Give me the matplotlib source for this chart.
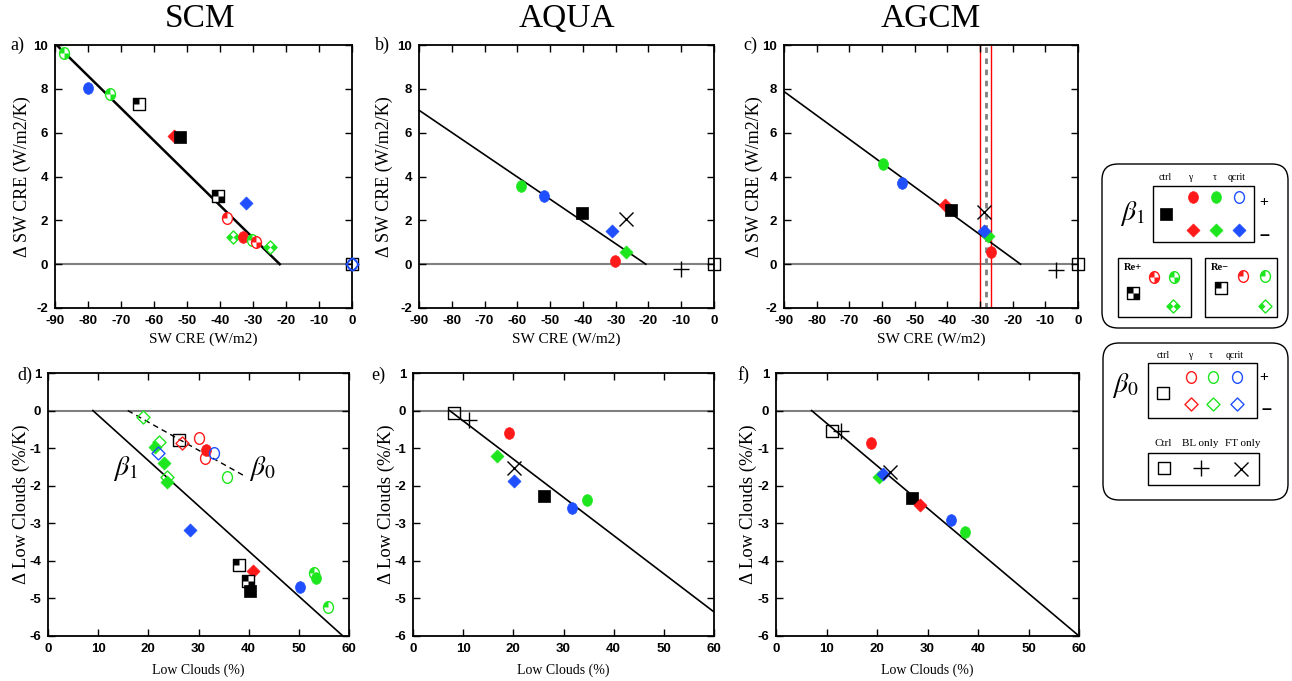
import numpy as np
import matplotlib
matplotlib.use('Agg')
import matplotlib.pyplot as plt
from matplotlib.path import Path
from matplotlib.transforms import Affine2D
from matplotlib.patches import FancyBboxPatch, Rectangle

plt.rcParams['mathtext.fontset'] = 'stix'
plt.rcParams['axes.unicode_minus'] = False
SERIF = 'Liberation Serif'
SANS = 'Liberation Sans'

# ---------------- data ----------------
# experiment codes: ctrl / gamma / tau / qcrit with +/- ; suffix b0 = beta0 (open),
# re+ / re- = Reynolds-number variants, BL / FT = BL only / FT only

# (a) SCM : dSW CRE vs SW CRE
scm_cre_x = [-87.2, -80.0, -73.3, -64.5, -54.0, -52.1, -40.6, -32.2, -38.0,
             -36.1, -33.0, -30.2, -29.2, -25.0, 0.0, 0.0, 0.0]
scm_cre_y = [9.65, 8.05, 7.78, 7.3, 5.85, 5.8, 3.1, 2.78, 2.1,
             1.22, 1.25, 1.12, 1.0, 0.78, 0.0, 0.0, 0.0]
scm_cre_exp = ['tau+ re+', 'qcrit+', 'tau+ re+', 'ctrl re-', 'gamma-', 'ctrl', 'ctrl re+',
               'qcrit-', 'gamma+ re-', 'tau- re+', 'gamma+', 'tau+ re+', 'gamma+ re+',
               'tau- re+', 'ctrl b0', 'qcrit- b0', 'qcrit+ b0']

# (b) AQUA
aqua_cre_x = [-59.0, -51.8, -40.4, -26.7, -31.0, -27.0, -30.2, -10.2, 0.0]
aqua_cre_y = [3.57, 3.12, 2.33, 2.06, 1.5, 0.55, 0.14, -0.24, 0.0]
aqua_cre_exp = ['tau+', 'qcrit+', 'ctrl', 'FT', 'qcrit-', 'tau-', 'gamma+', 'BL', 'ctrl b0']

# (c) AGCM
agcm_cre_x = [-59.8, -54.0, -40.8, -39.0, -27.6, -28.7, -28.8, -26.7, -6.8, 0.0]
agcm_cre_y = [4.58, 3.70, 2.72, 2.49, 1.3, 1.53, 2.37, 0.55, -0.27, 0.0]
agcm_cre_exp = ['tau+', 'qcrit+', 'gamma-', 'ctrl', 'tau-', 'qcrit-', 'FT', 'gamma+', 'BL', 'ctrl b0']
agcm_obs = -28.3
agcm_obs_range = [-30.1, -26.6]

# (d) SCM : dLow clouds vs Low clouds
scm_low_x = [19.0, 22.2, 21.4, 21.9, 23.1, 23.8, 23.7, 26.2, 26.7, 30.0, 31.4, 31.2,
             33.0, 35.7, 28.4, 38.1, 40.9, 39.9, 40.3, 50.2, 53.0, 53.5, 55.8]
scm_low_y = [-0.17, -0.83, -0.97, -1.14, -1.39, -1.78, -1.9, -0.79, -0.86, -0.74, -1.04, -1.25,
             -1.14, -1.78, -3.19, -4.11, -4.26, -4.53, -4.79, -4.69, -4.31, -4.46, -5.24]
scm_low_exp = ['tau- b0', 'tau- b0', 'tau-', 'qcrit- b0', 'tau-', 'tau- b0', 'tau-', 'ctrl b0',
               'gamma- b0', 'gamma+ b0', 'gamma+', 'gamma+ b0', 'qcrit+ b0', 'tau+ b0', 'qcrit-',
               'ctrl re-', 'gamma-', 'ctrl re+', 'ctrl', 'qcrit+', 'tau+ re+', 'tau+', 'tau+ re-']

# (e) AQUA
aqua_low_x = [8.1, 11.1, 19.2, 16.7, 20.2, 20.2, 26.1, 31.7, 34.6]
aqua_low_y = [-0.06, -0.24, -0.59, -1.21, -1.88, -1.54, -2.28, -2.58, -2.37]
aqua_low_exp = ['ctrl b0', 'BL', 'gamma+', 'tau-', 'qcrit-', 'FT', 'ctrl', 'qcrit+', 'tau+']

# (f) AGCM
agcm_low_x = [11.0, 12.85, 18.8, 20.4, 21.1, 22.5, 27.0, 28.6, 34.7, 37.4]
agcm_low_y = [-0.55, -0.55, -0.86, -1.78, -1.70, -1.63, -2.33, -2.52, -2.91, -3.22]
agcm_low_exp = ['ctrl b0', 'BL', 'gamma+', 'tau-', 'qcrit-', 'FT', 'ctrl', 'gamma-', 'qcrit+', 'tau+']

# regression lines: (slope, zero crossing, x start, x end)
scm_cre_fit = (-0.1479, -21.9, -89.5, -21.9)
aqua_cre_fit = (-0.1015, -20.8, -90.0, -20.8)
agcm_cre_fit = (-0.1088, -17.6, -90.0, -17.6)
scm_low_fit_b1 = (-0.1204, 8.95, 8.95, 58.8)
scm_low_fit_b0 = (-0.0748, 15.9, 15.9, 39.3)
aqua_low_fit = (-0.1017, 7.3, 7.3, 60.0)
agcm_low_fit = (-0.1133, 7.05, 7.05, 60.0)

titles = ['SCM', 'AQUA', 'AGCM']
cre_ticks_x = np.arange(-90, 1, 10)
cre_ticks_y = np.arange(-2, 11, 2)
low_ticks_x = np.arange(0, 61, 10)
low_ticks_y = np.arange(-6, 2, 1)

# ---------------- marker shapes ----------------
COLORS = {'ctrl': 'black', 'gamma': '#ff1a1a', 'tau': '#1ee61e', 'qcrit': '#1f4fff'}
ELL = Affine2D().scale(0.85, 1.0)


def poly(pts):
    return Path(pts + [pts[0]], [Path.MOVETO] + [Path.LINETO] * (len(pts) - 1) + [Path.CLOSEPOLY])


def wedge(a, b):
    return ELL.transform_path(Path.wedge(a, b))


SHAPES = {
    'circ': ELL.transform_path(Path.unit_circle()),
    'sq': poly([(-1, -1), (1, -1), (1, 1), (-1, 1)]),
    'dia': poly([(0, -1), (1, 0), (0, 1), (-1, 0)]),
}
PARTS = {
    'circ': {'re+': Path.make_compound_path(wedge(90, 180), wedge(270, 360)),
             're-': wedge(90, 180)},
    'sq': {'re+': Path.make_compound_path(poly([(-1, 0), (0, 0), (0, 1), (-1, 1)]),
                                          poly([(0, -1), (1, -1), (1, 0), (0, 0)])),
           're-': poly([(-1, 0), (0, 0), (0, 1), (-1, 1)])},
    'dia': {'re+': Path.make_compound_path(poly([(-1, 0), (-0.5, -0.5), (0, 0), (-0.5, 0.5)]),
                                           poly([(1, 0), (0.5, 0.5), (0, 0), (0.5, -0.5)])),
            're-': poly([(-1, 0), (-0.5, -0.5), (0, 0), (-0.5, 0.5)])},
}
SIZES = {'circ': 8.4, 'sq': 8.4, 'dia': 9.4}


def mark(ax, x, y, exp, scale=1.0):
    parts = exp.split()
    name = parts[0]
    kind = parts[1] if len(parts) > 1 else 'b1'
    if name == 'BL':
        ax.plot(x, y, marker='+', ms=11 * scale, mew=1, color='black', ls='none', zorder=5,
                clip_on=False)
        return
    if name == 'FT':
        ax.plot(x, y, marker='x', ms=10 * scale, mew=1, color='black', ls='none', zorder=5,
                clip_on=False)
        return
    if name == 'ctrl':
        shape, col = 'sq', 'black'
    else:
        col = COLORS[name[:-1]]
        shape = 'circ' if name.endswith('+') else 'dia'
    ms = SIZES[shape] * scale
    if kind == 'b1':
        ax.plot(x, y, marker=SHAPES[shape], ms=ms, mfc=col, mec=col, mew=0.5, ls='none',
                zorder=3, clip_on=False)
    else:
        face = 'none' if kind == 'b0' else 'white'
        ax.plot(x, y, marker=SHAPES[shape], ms=ms, mfc=face, mec=col, mew=1.0, ls='none',
                zorder=3, clip_on=False)
        if kind in PARTS[shape]:
            ax.plot(x, y, marker=PARTS[shape][kind], ms=ms, mfc=col, mec='none', ls='none',
                    zorder=3, clip_on=False)


def fit_line(ax, fit, lw=1.2, ls='-'):
    slope, x0, xa, xb = fit
    xs = np.array([xa, xb])
    ax.plot(xs, slope * (xs - x0), color='black', lw=lw, ls=ls, zorder=2)


# ---------------- figure ----------------
W, H = 1292, 681
fig = plt.figure(figsize=(W / 100, H / 100), dpi=100)


def box(l, r, t, b):
    return [l / W, (H - b) / H, (r - l) / W, (b - t) / H]


top_boxes = [box(55, 352, 45, 308), box(419, 714, 45, 308), box(784, 1078, 45, 308)]
bot_boxes = [box(48, 349, 373, 636), box(413, 714, 373, 636), box(776, 1079, 373, 636)]
top_ylab = [-0.11, -0.118, -0.102]
bot_ylab = [-0.088, -0.088, -0.092]
top_panel = [(17, 45, 'a)'), (382, 45, 'b)'), (750, 45, 'c)')]
bot_panel = [(25, 375, 'd)'), (378, 375, 'e)'), (743, 375, 'f)')]
title_x = [200, 567, 931]

top_data = [(scm_cre_x, scm_cre_y, scm_cre_exp, scm_cre_fit, 1.8),
            (aqua_cre_x, aqua_cre_y, aqua_cre_exp, aqua_cre_fit, 1.2),
            (agcm_cre_x, agcm_cre_y, agcm_cre_exp, agcm_cre_fit, 1.2)]
bot_data = [(scm_low_x, scm_low_y, scm_low_exp, scm_low_fit_b1, 1.2),
            (aqua_low_x, aqua_low_y, aqua_low_exp, aqua_low_fit, 1.2),
            (agcm_low_x, agcm_low_y, agcm_low_exp, agcm_low_fit, 1.2)]


def style(ax):
    for s in ax.spines.values():
        s.set_linewidth(1.3)
    ax.tick_params(direction='in', top=True, right=True, length=5, width=1, pad=5,
                   labelsize=9.5)
    for lab in ax.get_xticklabels() + ax.get_yticklabels():
        lab.set_fontfamily(SANS)
        lab.set_fontweight('bold')


for i in range(3):
    # top row
    ax = fig.add_axes(top_boxes[i])
    xs, ys, ex, fit, lw = top_data[i]
    ax.axhline(0, color='#808080', lw=1.5, zorder=1)
    fit_line(ax, fit, lw=lw)
    for x, y, e in zip(xs, ys, ex):
        mark(ax, x, y, e)
    ax.set_xlim(-90, 0)
    ax.set_ylim(-2, 10)
    ax.set_xticks(cre_ticks_x)
    ax.set_yticks(cre_ticks_y)
    style(ax)
    ax.set_xlabel('SW CRE (W/m2)', family=SERIF, fontsize=11, va='center')
    ax.xaxis.set_label_coords(0.5, -0.12)
    ax.set_ylabel('\u0394 SW CRE (W/m2/K)', family=SERIF, fontsize=13, va='center')
    ax.yaxis.set_label_coords(top_ylab[i], 0.5)
    if i == 2:
        for xv in agcm_obs_range:
            ax.axvline(xv, color='red', lw=1.0, zorder=1.5)
        ax.axvline(agcm_obs, color='#808080', lw=2.0, ls=(0, (2, 2)), zorder=1.5)

    # bottom row
    ax2 = fig.add_axes(bot_boxes[i])
    xs, ys, ex, fit, lw = bot_data[i]
    ax2.axhline(0, color='#808080', lw=1.5, zorder=1)
    fit_line(ax2, fit, lw=lw)
    if i == 0:
        fit_line(ax2, scm_low_fit_b0, lw=1.0, ls=(0, (4, 3)))
        ax2.text(15.5, -1.55, r'$\beta_1$', fontsize=20, ha='center', va='center')
        ax2.text(42.7, -1.55, r'$\beta_0$', fontsize=20, ha='center', va='center')
    for x, y, e in zip(xs, ys, ex):
        mark(ax2, x, y, e)
    ax2.set_xlim(0, 60)
    ax2.set_ylim(-6, 1)
    ax2.set_xticks(low_ticks_x)
    ax2.set_yticks(low_ticks_y)
    style(ax2)
    ax2.set_xlabel('Low Clouds (%)', family=SERIF, fontsize=10, va='center')
    ax2.xaxis.set_label_coords(0.5, -0.13)
    ax2.set_ylabel('\u0394 Low Clouds (%/K)', family=SERIF, fontsize=13.5, va='center')
    ax2.yaxis.set_label_coords(bot_ylab[i], 0.5)

# titles and panel letters, in pixel space
lax = fig.add_axes([0, 0, 1, 1])
lax.set_xlim(0, W)
lax.set_ylim(H, 0)
lax.axis('off')
for i in range(3):
    lax.text(title_x[i], 19, titles[i], family=SERIF, fontsize=24, ha='center', va='center')
    for px, py, t in (top_panel[i], bot_panel[i]):
        lax.text(px, py, t, family=SERIF, fontsize=13, ha='center', va='center')

# ---------------- legend boxes ----------------
def rbox(l, t, r, b):
    lax.add_patch(FancyBboxPatch((l, t), r - l, b - t, boxstyle='round,pad=0,rounding_size=16',
                                 fc='none', ec='black', lw=1.0))


def sbox(l, t, r, b):
    lax.add_patch(Rectangle((l, t), r - l, b - t, fc='none', ec='black', lw=1.0))


def small(x, y, s, size=7, **kw):
    lax.text(x, y, s, family=SERIF, fontsize=size, ha='center', va='center', **kw)


# beta1 box
rbox(1102, 164, 1288, 328)
lax.text(1132, 214, r'$\beta_1$', fontsize=20, ha='center', va='center')
sbox(1153, 186, 1254, 242)
for xx, s in zip([1165, 1190, 1215, 1237], ['ctrl', '\u03b3', '\u03c4', 'qcrit']):
    small(xx, 177, s)
mark(lax, 1166, 214, 'ctrl')
for xx, nm in zip([1193, 1216, 1239], ['gamma', 'tau', 'qcrit']):
    mark(lax, xx, 197, nm + '+' + ('' if nm != 'qcrit' else ' b0'))
    mark(lax, xx, 230, nm + '-')
lax.text(1264, 202, '+', family=SANS, fontsize=11, ha='center', va='center')
lax.text(1264, 236, '\u2013', family=SANS, fontsize=13, ha='center', va='center', weight='bold')

sbox(1118, 258, 1191, 317)
small(1133, 268, 'Re+', size=7.5, weight='bold')
mark(lax, 1154, 277, 'gamma+ re+')
mark(lax, 1174, 277, 'tau+ re+')
mark(lax, 1133, 293, 'ctrl re+')
mark(lax, 1173, 306, 'tau- re+')

sbox(1205, 258, 1277, 317)
small(1220, 268, 'Re\u2212', size=7.5, weight='bold')
mark(lax, 1243, 276, 'gamma+ re-')
mark(lax, 1265, 276, 'tau+ re-')
mark(lax, 1221, 288, 'ctrl re-')
mark(lax, 1265, 306, 'tau- re-')

# beta0 box
rbox(1103, 343, 1288, 500)
lax.text(1125, 385, r'$\beta_0$', fontsize=20, ha='center', va='center')
sbox(1148, 363, 1257, 418)
for xx, s in zip([1163, 1190, 1211, 1235], ['ctrl', '\u03b3', '\u03c4', 'qcrit']):
    small(xx, 355, s)
mark(lax, 1163, 393, 'ctrl b0')
for xx, nm in zip([1191, 1213, 1237], ['gamma', 'tau', 'qcrit']):
    mark(lax, xx, 377, nm + '+ b0')
    mark(lax, xx, 404, nm + '- b0')
lax.text(1264, 377, '+', family=SANS, fontsize=11, ha='center', va='center')
lax.text(1266, 409, '\u2013', family=SANS, fontsize=13, ha='center', va='center', weight='bold')

for xx, s in zip([1163, 1200, 1243], ['Ctrl', 'BL only', 'FT only']):
    small(xx, 444, s, size=8)
sbox(1148, 453, 1259, 485)
mark(lax, 1164, 468, 'ctrl b0')
mark(lax, 1201, 468, 'BL')
mark(lax, 1241, 469, 'FT')

fig.savefig('out.png', dpi=100)
